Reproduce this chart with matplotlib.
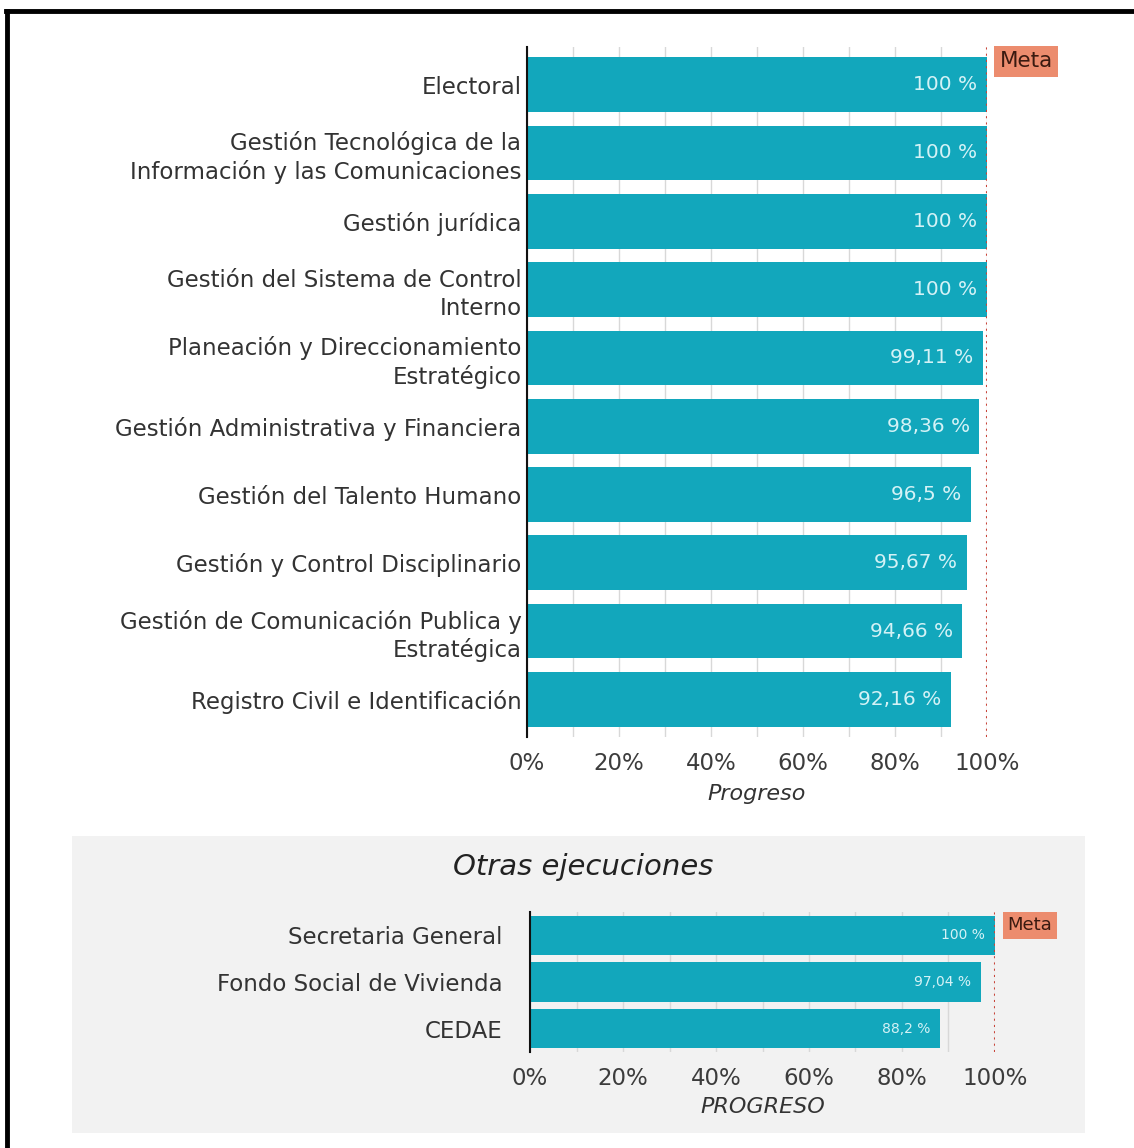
import matplotlib
matplotlib.use("Agg")
import matplotlib.pyplot as plt
from matplotlib.lines import Line2D
from matplotlib.patches import Rectangle

# datos principales
procesos = [
    "Electoral",
    "Gestión Tecnológica de la\nInformación y las Comunicaciones",
    "Gestión jurídica",
    "Gestión del Sistema de Control\nInterno",
    "Planeación y Direccionamiento\nEstratégico",
    "Gestión Administrativa y Financiera",
    "Gestión del Talento Humano",
    "Gestión y Control Disciplinario",
    "Gestión de Comunicación Publica y\nEstratégica",
    "Registro Civil e Identificación",
]
progreso = [100, 100, 100, 100, 99.11, 98.36, 96.5, 95.67, 94.66, 92.16]

# otras ejecuciones
otros = ["Secretaria General", "Fondo Social de Vivienda", "CEDAE"]
progreso_otros = [100, 97.04, 88.2]

meta = 100
ticks = [0, 20, 40, 60, 80, 100]
tick_labels = ["0%", "20%", "40%", "60%", "80%", "100%"]

BAR = "#12a7bc"
TXT = "#333333"
META_BG = "#ec8c6e"
META_LINE = "#c9453a"


def fmt(v):
    return f"{v:g}".replace(".", ",") + " %"


def draw(ax, cats, vals, height, lab_size, meta_size, ylim, ypad):
    ys = list(range(len(cats)))
    ax.barh(ys, vals, height=height, color=BAR, zorder=2)
    ax.set_ylim(*ylim)
    ax.set_xlim(0, 100)
    ax.set_yticks(ys)
    ax.set_yticklabels(cats, fontsize=16.5, color=TXT, linespacing=1.25)
    ax.set_xticks(ticks)
    ax.set_xticklabels(tick_labels, fontsize=16.5, color="#3c3c3c")
    ax.set_xticks(range(0, 101, 10), minor=True)
    ax.grid(axis="x", which="both", color="#d8d8d8", lw=1, zorder=0)
    ax.tick_params(axis="both", which="both", length=0)
    ax.tick_params(axis="x", pad=11)
    ax.tick_params(axis="y", pad=ypad)
    for s in ["top", "right", "bottom"]:
        ax.spines[s].set_visible(False)
    ax.spines["left"].set_color("#111111")
    ax.spines["left"].set_linewidth(1.5)
    ax.spines["left"].set_zorder(3)
    for y, v in zip(ys, vals):
        ax.annotate(fmt(v), (v, y), xytext=(-7, 0), textcoords="offset points",
                    ha="right", va="center", color="#d4f2f6", fontsize=lab_size,
                    zorder=4)
    ax.axvline(meta, color=META_LINE, ls=(0, (1, 2)), lw=1.5, zorder=3)
    ax.annotate("Meta", (meta, ylim[1]), xytext=(9, -3), textcoords="offset points",
                ha="left", va="top", fontsize=meta_size, color="#3a1a10",
                bbox=dict(boxstyle="square,pad=0.25", fc=META_BG, ec="none"),
                annotation_clip=False)


fig = plt.figure(figsize=(11.34, 11.48), dpi=100)

# panel gris de fondo
fig.patches.append(Rectangle((0.0635, 0.0131), 0.8933, 0.2587,
                             transform=fig.transFigure, fc="#f2f2f2", ec="none",
                             zorder=-5))

ax1 = fig.add_axes([0.4647, 0.358, 0.4057, 0.601])
ax1.set_facecolor("none")
draw(ax1, procesos, progreso, 0.8, 14.5, 15.5, (9.55, -0.55), 4)
ax1.set_xlabel("Progreso", fontsize=16, style="italic", color=TXT, labelpad=6)

ax2 = fig.add_axes([0.4674, 0.0836, 0.41, 0.122])
ax2.set_facecolor("none")
ax2.set_zorder(2)
draw(ax2, otros, progreso_otros, 0.84, 10, 13, (2.5, -0.5), 20)
ax2.set_xlabel("PROGRESO", fontsize=16, style="italic", color=TXT, labelpad=5)

fig.text(0.514, 0.2448, "Otras ejecuciones", fontsize=21, style="italic",
         color="#222222", ha="center", va="center")

# marco negro (arriba e izquierda)
fig.add_artist(Line2D([0.0066, 0.0066], [0.0, 0.9904], transform=fig.transFigure,
                      color="black", lw=3.5))
fig.add_artist(Line2D([0.005, 1.0], [0.9904, 0.9904], transform=fig.transFigure,
                      color="black", lw=3.5))

fig.savefig("out.png", dpi=100)
